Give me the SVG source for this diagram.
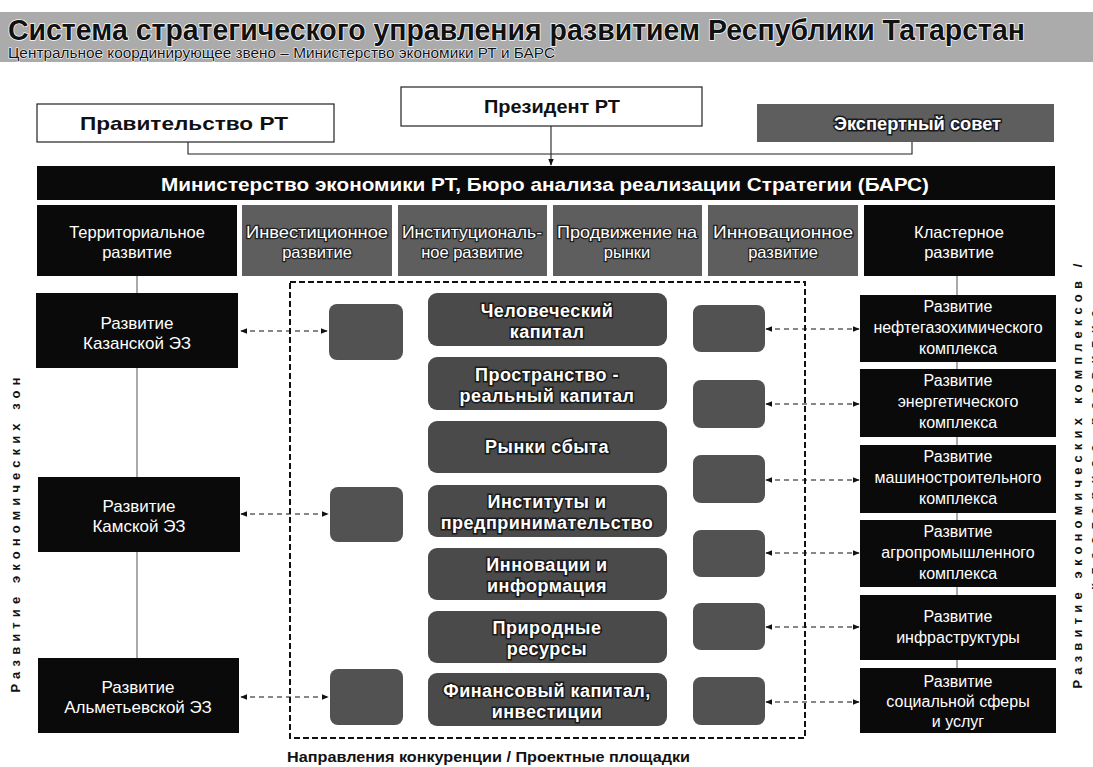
<svg xmlns="http://www.w3.org/2000/svg" width="1093" height="767" viewBox="0 0 1093 767">
<defs>
<style>
text{font-family:"Liberation Sans",Arial,sans-serif;}
.blk{fill:#0a0a0a;}
.gry{fill:#5e5e5e;}
.rnd{fill:#4a4a4a;}
.sml{fill:#525252;}
.wht{fill:#fff;stroke:#222;stroke-width:1.2;}
.tw{fill:#fff;font-size:16px;text-anchor:middle;}
.tz{fill:#fff;font-size:17px;text-anchor:middle;}
.th{fill:#fff;font-size:16.5px;text-anchor:middle;}
.tg{fill:#fff;font-size:16.5px;text-anchor:middle;stroke:#222;stroke-width:2.5;paint-order:stroke;}
.tc{fill:#fff;font-size:18px;font-weight:bold;letter-spacing:0.5px;text-anchor:middle;stroke:#1a1a1a;stroke-width:3;paint-order:stroke;}
.tb{fill:#111;font-size:19px;font-weight:bold;}
.conn{fill:none;stroke:#222;stroke-width:1.1;}
.thin{fill:none;stroke:#555;stroke-width:1;}
.dash{fill:none;stroke:#111;stroke-width:1.2;stroke-dasharray:5,4;}
.vert{fill:#111;font-size:13px;font-weight:bold;text-anchor:middle;}
</style>
<marker id="ah" viewBox="0 0 10 10" refX="9" refY="5" markerWidth="7" markerHeight="7" orient="auto-start-reverse" markerUnits="userSpaceOnUse">
<path d="M0,1 L10,5 L0,9 Z" fill="#111"/>
</marker>
</defs>
<rect width="1093" height="767" fill="#fff"/>

<g id="banner">
<rect x="0" y="12" width="1093" height="50" fill="#ababab"/>
<text x="8" y="40" font-size="29" font-weight="bold" textLength="1017" lengthAdjust="spacingAndGlyphs" fill="#111" stroke="#fff" stroke-width="1.5" style="paint-order:stroke">Система стратегического управления развитием Республики Татарстан</text>
<text x="8" y="58" font-size="15.5" textLength="547" lengthAdjust="spacingAndGlyphs" fill="#111" stroke="#fff" stroke-width="1.2" style="paint-order:stroke">Центральное координирующее звено – Министерство экономики РТ и БАРС</text>
</g>

<g id="connectors">
<path class="conn" d="M188,142 V154 H912 V142"/>
<path class="conn" d="M551,126 V165" marker-end="url(#ah)"/>
<path class="thin" d="M137,276 V293 M137,368 V477 M137,552 V658"/>
<path class="thin" d="M957,276 V295 M957,362 V369 M957,437 V445 M957,513 V520 M957,587 V595 M957,660 V668"/>
<path class="dash" d="M241,331 H327" marker-start="url(#ah)" marker-end="url(#ah)"/>
<path class="dash" d="M241,514 H328" marker-start="url(#ah)" marker-end="url(#ah)"/>
<path class="dash" d="M241,697 H328" marker-start="url(#ah)" marker-end="url(#ah)"/>
<path class="dash" d="M766,329 H859" marker-start="url(#ah)" marker-end="url(#ah)"/>
<path class="dash" d="M766,404 H859" marker-start="url(#ah)" marker-end="url(#ah)"/>
<path class="dash" d="M766,480 H859" marker-start="url(#ah)" marker-end="url(#ah)"/>
<path class="dash" d="M766,553 H859" marker-start="url(#ah)" marker-end="url(#ah)"/>
<path class="dash" d="M766,627 H859" marker-start="url(#ah)" marker-end="url(#ah)"/>
<path class="dash" d="M766,702 H859" marker-start="url(#ah)" marker-end="url(#ah)"/>
</g>

<g id="president"><rect class="wht" x="401" y="87" width="301" height="39"/><text class="tb" x="484" y="113" textLength="136" lengthAdjust="spacingAndGlyphs">Президент РТ</text></g>
<g id="government"><rect class="wht" x="37" y="104" width="297" height="38"/><text class="tb" x="80" y="130" textLength="208" lengthAdjust="spacingAndGlyphs">Правительство РТ</text></g>
<g id="expert"><rect class="gry" x="757" y="104" width="297" height="38"/><text class="tb" x="834" y="130" textLength="167" lengthAdjust="spacingAndGlyphs" fill="#fff" stroke="#1a1a1a" stroke-width="3" style="fill:#fff;paint-order:stroke">Экспертный совет</text></g>

<g id="ministry"><rect class="blk" x="37" y="166" width="1018" height="34"/><text x="545" y="191" font-size="19" font-weight="bold" fill="#fff" text-anchor="middle" textLength="768" lengthAdjust="spacingAndGlyphs">Министерство экономики РТ, Бюро анализа реализации Стратегии (БАРС)</text></g>

<g id="h-territorial"><rect class="blk" x="37" y="205" width="200" height="71"/><text class="th" x="137" y="238">Территориальное</text><text class="th" x="137" y="258">развитие</text></g>
<g id="h-investment"><rect class="gry" x="242" y="205" width="150" height="71"/><text class="tg" x="317" y="238" textLength="142" lengthAdjust="spacingAndGlyphs">Инвестиционное</text><text class="tg" x="317" y="258">развитие</text></g>
<g id="h-institutional"><rect class="gry" x="398" y="205" width="149" height="71"/><text class="tg" x="472" y="238" textLength="140" lengthAdjust="spacingAndGlyphs">Институциональ-</text><text class="tg" x="472" y="258">ное развитие</text></g>
<g id="h-markets"><rect class="gry" x="553" y="205" width="149" height="71"/><text class="tg" x="627" y="238" textLength="140" lengthAdjust="spacingAndGlyphs">Продвижение на</text><text class="tg" x="627" y="258">рынки</text></g>
<g id="h-innovation"><rect class="gry" x="708" y="205" width="150" height="71"/><text class="tg" x="783" y="238" textLength="140" lengthAdjust="spacingAndGlyphs">Инновационное</text><text class="tg" x="783" y="258">развитие</text></g>
<g id="h-cluster"><rect class="blk" x="864" y="205" width="191" height="71"/><text class="th" x="959" y="238">Кластерное</text><text class="th" x="959" y="258">развитие</text></g>

<g id="zone-kazan"><rect class="blk" x="36" y="293" width="202" height="75"/><text class="tz" x="137" y="329">Развитие</text><text class="tz" x="137" y="349">Казанской ЭЗ</text></g>
<g id="zone-kama"><rect class="blk" x="38" y="477" width="202" height="75"/><text class="tz" x="139" y="512">Развитие</text><text class="tz" x="139" y="532">Камской ЭЗ</text></g>
<g id="zone-almet"><rect class="blk" x="38" y="658" width="201" height="75"/><text class="tz" x="138" y="693">Развитие</text><text class="tz" x="138" y="713">Альметьевской ЭЗ</text></g>

<g id="platforms">
<rect x="290" y="282" width="515" height="456" fill="none" stroke="#111" stroke-width="2" stroke-dasharray="6,3"/>
</g>

<g id="left-small-1"><rect class="sml" x="329" y="304" width="74" height="56" rx="8"/></g>
<g id="left-small-2"><rect class="sml" x="330" y="487" width="73" height="55" rx="8"/></g>
<g id="left-small-3"><rect class="sml" x="330" y="669" width="73" height="56" rx="8"/></g>

<g id="c-human"><rect class="rnd" x="428" y="293" width="239" height="53" rx="9"/><text class="tc" x="547" y="317">Человеческий</text><text class="tc" x="547" y="338">капитал</text></g>
<g id="c-space"><rect class="rnd" x="428" y="357" width="239" height="53" rx="9"/><text class="tc" x="547" y="381">Пространство -</text><text class="tc" x="547" y="402">реальный капитал</text></g>
<g id="c-markets"><rect class="rnd" x="428" y="421" width="239" height="52" rx="9"/><text class="tc" x="547" y="453">Рынки сбыта</text></g>
<g id="c-institutes"><rect class="rnd" x="428" y="485" width="239" height="52" rx="9"/><text class="tc" x="547" y="508">Институты и</text><text class="tc" x="547" y="529">предпринимательство</text></g>
<g id="c-innovation"><rect class="rnd" x="428" y="548" width="239" height="52" rx="9"/><text class="tc" x="547" y="571">Инновации и</text><text class="tc" x="547" y="592">информация</text></g>
<g id="c-nature"><rect class="rnd" x="428" y="611" width="239" height="52" rx="9"/><text class="tc" x="547" y="634">Природные</text><text class="tc" x="547" y="655">ресурсы</text></g>
<g id="c-finance"><rect class="rnd" x="428" y="673" width="239" height="53" rx="9"/><text class="tc" x="547" y="697">Финансовый капитал,</text><text class="tc" x="547" y="718">инвестиции</text></g>

<g id="right-small-1"><rect class="sml" x="693" y="305" width="72" height="47" rx="8"/></g>
<g id="right-small-2"><rect class="sml" x="693" y="380" width="72" height="48" rx="8"/></g>
<g id="right-small-3"><rect class="sml" x="693" y="455" width="72" height="48" rx="8"/></g>
<g id="right-small-4"><rect class="sml" x="693" y="530" width="72" height="47" rx="8"/></g>
<g id="right-small-5"><rect class="sml" x="693" y="603" width="72" height="47" rx="8"/></g>
<g id="right-small-6"><rect class="sml" x="693" y="677" width="72" height="48" rx="8"/></g>

<g id="k-oil"><rect class="blk" x="860" y="295" width="196" height="67"/><text class="tw" x="958" y="312">Развитие</text><text class="tw" x="958" y="333">нефтегазохимического</text><text class="tw" x="958" y="354">комплекса</text></g>
<g id="k-energy"><rect class="blk" x="860" y="369" width="196" height="68"/><text class="tw" x="958" y="386">Развитие</text><text class="tw" x="958" y="407">энергетического</text><text class="tw" x="958" y="428">комплекса</text></g>
<g id="k-machine"><rect class="blk" x="860" y="445" width="196" height="68"/><text class="tw" x="958" y="462">Развитие</text><text class="tw" x="958" y="483">машиностроительного</text><text class="tw" x="958" y="504">комплекса</text></g>
<g id="k-agro"><rect class="blk" x="860" y="520" width="196" height="67"/><text class="tw" x="958" y="537">Развитие</text><text class="tw" x="958" y="558">агропромышленного</text><text class="tw" x="958" y="579">комплекса</text></g>
<g id="k-infra"><rect class="blk" x="860" y="595" width="196" height="65"/><text class="tw" x="958" y="622">Развитие</text><text class="tw" x="958" y="643">инфраструктуры</text></g>
<g id="k-social"><rect class="blk" x="860" y="668" width="196" height="65"/><text class="tw" x="958" y="687">Развитие</text><text class="tw" x="958" y="707">социальной сферы</text><text class="tw" x="958" y="727">и услуг</text></g>

<g id="labels">
<text class="vert" x="20" y="535" transform="rotate(-90 20 535)" textLength="315" lengthAdjust="spacing">Развитие экономических зон</text>
<text class="vert" x="1082" y="476" transform="rotate(-90 1082 476)" textLength="425" lengthAdjust="spacing">Развитие экономических комплексов /</text>
<text class="vert" x="1099" y="450" transform="rotate(-90 1099 450)" textLength="280" lengthAdjust="spacing">кластерное развитие</text>
<text x="287" y="762" font-size="15.5" font-weight="bold" fill="#111" textLength="403" lengthAdjust="spacingAndGlyphs">Направления конкуренции / Проектные площадки</text>
</g>
</svg>
